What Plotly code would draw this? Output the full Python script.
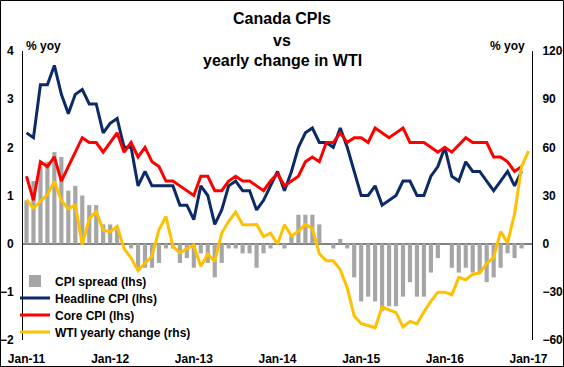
import plotly.graph_objects as go

# ---------------- data (monthly, Jan-11 .. Jan-17) ----------------
x_tick_labels = ["Jan-11", "Jan-12", "Jan-13", "Jan-14", "Jan-15", "Jan-16", "Jan-17"]

headline_cpi = [2.3, 2.2, 3.3, 3.3, 3.7, 3.1, 2.7, 3.1, 3.2, 2.9, 2.9, 2.3,
                2.5, 2.6, 2.0, 2.0, 1.2, 1.5, 1.2, 1.2, 1.2, 1.2, 0.8, 0.8,
                0.5, 1.2, 1.0, 0.4, 0.7, 1.2, 1.3, 1.1, 1.1, 0.7, 0.9, 1.2,
                1.5, 1.1, 1.5, 2.0, 2.3, 2.4, 2.1, 2.1, 2.0, 2.4, 2.0, 1.5,
                1.0, 1.0, 1.2, 0.8, 0.9, 1.0, 1.3, 1.3, 1.0, 1.0, 1.4, 1.6,
                2.0, 1.4, 1.3, 1.7, 1.5, 1.5, 1.3, 1.1, 1.3, 1.5, 1.2, 1.5]

core_cpi = [1.4, 0.9, 1.7, 1.6, 1.8, 1.3, 1.6, 1.9, 2.2, 2.1, 2.1, 1.9,
            2.1, 2.3, 1.9, 2.1, 1.8, 2.0, 1.7, 1.6, 1.3, 1.3, 1.2, 1.1,
            1.0, 1.4, 1.4, 1.1, 1.1, 1.3, 1.4, 1.3, 1.3, 1.2, 1.1, 1.3,
            1.45, 1.2, 1.3, 1.4, 1.7, 1.8, 1.7, 2.1, 2.1, 2.3, 2.1, 2.2,
            2.2, 2.1, 2.4, 2.3, 2.2, 2.3, 2.4, 2.1, 2.1, 2.1, 2.0, 1.9,
            2.0, 1.9, 2.05, 2.2, 2.1, 2.1, 2.1, 1.8, 1.8, 1.7, 1.5, 1.6]

cpi_spread = [0.9, 1.3, 1.6, 1.7, 1.9, 1.8, 1.1, 1.2, 1.0, 0.8, 0.8, 0.4,
              0.4, 0.3, 0.0, -0.1, -0.5, -0.5, -0.5, -0.4, -0.1, -0.1, -0.4, -0.3,
              -0.5, -0.2, -0.4, -0.7, -0.4, -0.1, -0.1, -0.2, -0.2, -0.5, -0.2, -0.1,
              0.0, -0.1, 0.2, 0.6, 0.6, 0.6, 0.4, 0.0, -0.1, 0.1, -0.1, -0.7,
              -1.2, -1.1, -1.2, -1.4, -1.3, -1.3, -1.1, -0.8, -1.1, -1.1, -0.6, -0.3,
              0.0, -0.5, -0.6, -0.5, -0.6, -0.6, -0.8, -0.7, -0.5, -0.2, -0.3, -0.1]

wti_yoy = [27.4, 22.2, 26.3, 30.5, 38.8, 26.8, 21.8, 23.9, -0.6, 15.6, 20.1, 8.5,
           7.3, 10.8, -3.1, -8.9, -16.8, -12.0, -7.9, 8.7, 17.0, -1.7, -5.8, -3.1,
           -1.0, -14.1, -6.5, -11.0, 6.6, 13.9, 19.7, 11.8, 11.8, 12.0, 4.4, 6.5,
           -0.2, 11.8, 4.8, 7.8, 12.0, 9.5, -6.3, -10.7, -10.7, -16.2, -27.5, -45.0,
           -49.7, -51.0, -52.4, -39.5, -41.1, -43.0, -51.8, -48.4, -50.0, -42.5, -36.0, -30.2,
           -30.2, -31.8, -21.0, -22.5, -19.0, -18.3, -12.3, -8.5, 7.5, 0.5, 18.5, 48.0,
           57.7]

months_cpi = list(range(len(headline_cpi)))
months_wti = list(range(len(wti_yoy)))

# ---------------- geometry helpers (pixels -> paper) ----------------
W, H = 564, 367
ML, MR, MT, MB = 23, 32, 51, 27
PW, PH = W - ML - MR, H - MT - MB


def px(xp):
    return (xp - ML) / PW


def py(yp):
    return (H - MB - yp) / PH


FONT = "Liberation Sans, Arial, sans-serif"

fig = go.Figure()

fig.add_trace(go.Bar(
    x=months_cpi, y=cpi_spread, name="CPI spread (lhs)",
    marker=dict(color="#A6A6A6", line=dict(width=0)), width=0.6,
    xaxis="x", yaxis="y", legend="legend"))

fig.add_trace(go.Scatter(
    x=months_cpi, y=headline_cpi, name="Headline CPI (lhs)", mode="lines",
    line=dict(color="#0B2A66", width=3), xaxis="x", yaxis="y", legend="legend2"))

fig.add_trace(go.Scatter(
    x=months_cpi, y=core_cpi, name="Core CPI (lhs)", mode="lines",
    line=dict(color="#FF0000", width=3), xaxis="x", yaxis="y", legend="legend3"))

fig.add_trace(go.Scatter(
    x=months_wti, y=wti_yoy, name="WTI yearly change (rhs)", mode="lines",
    line=dict(color="#FFC000", width=3), xaxis="x", yaxis="y2", legend="legend4"))

tickfont = dict(family=FONT, size=12, color="black", weight="bold")
legfont = dict(family=FONT, size=12, color="black", weight="bold")


def leg(yp):
    return dict(x=px(15), y=py(yp), xanchor="left", yanchor="middle",
                bgcolor="rgba(0,0,0,0)", font=legfont, borderwidth=0)


fig.update_layout(
    width=W, height=H,
    margin=dict(l=ML, r=MR, t=MT, b=MB, pad=0, autoexpand=False),
    paper_bgcolor="white", plot_bgcolor="white",
    xaxis=dict(range=[-0.5, 72.5], tickmode="array",
               tickvals=[0, 12, 24, 36, 48, 60, 72], ticktext=x_tick_labels,
               ticks="", showline=False, showgrid=False, zeroline=False,
               tickfont=tickfont, ticklabelstandoff=10, automargin=False),
    xaxis2=dict(range=[-0.5, 72.5], overlaying="x", anchor="free", position=py(244),
                tickmode="array", tickvals=[11.5, 23.5, 35.5, 47.5, 59.5, 71.5],
                ticks="outside", ticklen=3, tickcolor="#808080", tickwidth=1,
                showticklabels=False, showline=False, showgrid=False, zeroline=False,
                automargin=False),
    yaxis=dict(range=[-2, 4], dtick=1, tick0=0, ticks="", showgrid=False,
               showline=True, linecolor="black", linewidth=1,
               zeroline=True, zerolinecolor="#808080", zerolinewidth=1.5,
               tickfont=tickfont, ticklabelstandoff=6, automargin=False),
    yaxis2=dict(range=[-60, 120], dtick=30, tick0=0, overlaying="y", side="right",
                ticks="", showgrid=False, showline=True, linecolor="black", linewidth=1,
                zeroline=False, tickfont=tickfont, ticklabelstandoff=7, automargin=False),
    legend=leg(281), legend2=leg(298), legend3=leg(315), legend4=leg(332),
    showlegend=True,
)

annos = [
    dict(text="Canada CPIs", x=px(282), y=py(18)),
    dict(text="vs", x=px(282), y=py(40)),
    dict(text="yearly change in WTI", x=px(282), y=py(61)),
]
for a in annos:
    fig.add_annotation(xref="paper", yref="paper", xanchor="center", yanchor="middle",
                       showarrow=False, font=dict(family=FONT, size=16, color="black", weight="bold"),
                       **a)

fig.add_annotation(text="% yoy", xref="paper", yref="paper", x=px(24), y=py(46),
                   xanchor="left", yanchor="middle", showarrow=False, font=tickfont)
fig.add_annotation(text="% yoy", xref="paper", yref="paper", x=px(527), y=py(46),
                   xanchor="right", yanchor="middle", showarrow=False, font=tickfont)

fig.add_shape(type="rect", xref="paper", yref="paper",
              x0=px(0.5), x1=px(563.5), y0=py(366.5), y1=py(0.5),
              line=dict(color="black", width=1), fillcolor="rgba(0,0,0,0)", layer="above")

fig.write_html("out.html", config={"displayModeBar": False},
               post_script="document.body.style.margin='0px';")
